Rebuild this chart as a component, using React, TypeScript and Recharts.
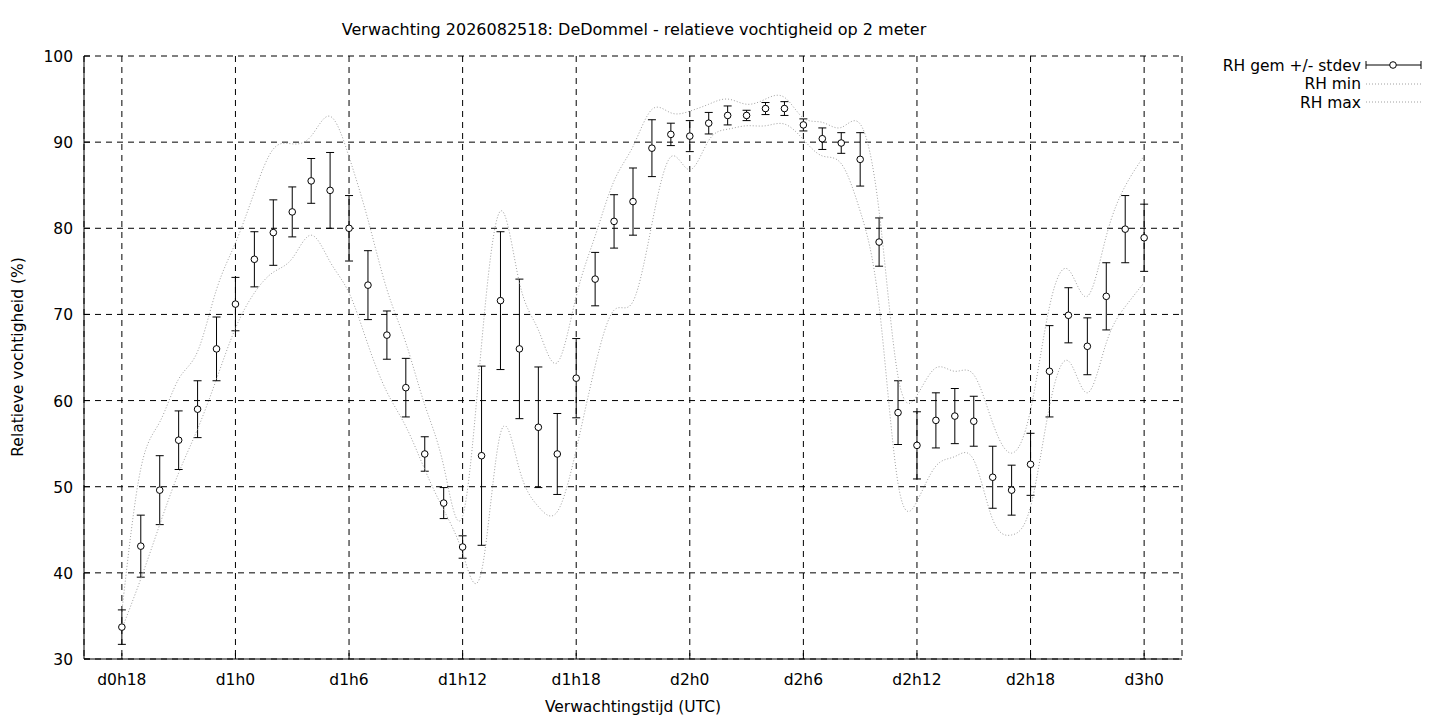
import React from "react"
import { ComposedChart, Scatter, Line, XAxis, YAxis, CartesianGrid, ErrorBar } from "recharts"

// forecast hours (0 = d0h0), one point per hour
const hours = [
  18, 19, 20, 21, 22, 23, 24, 25, 26, 27, 28, 29, 30, 31, 32, 33, 34, 35, 36,
  37, 38, 39, 40, 41, 42, 43, 44, 45, 46, 47, 48, 49, 50, 51, 52, 53, 54, 55,
  56, 57, 58, 59, 60, 61, 62, 63, 64, 65, 66, 67, 68, 69, 70, 71, 72,
]

const rhMean = [
  33.7, 43.1, 49.6, 55.4, 59.0, 66.0, 71.2, 76.4, 79.5, 81.9, 85.5, 84.4, 80.0, 73.4, 67.6, 61.5, 53.8, 48.1, 43.0,
  53.6, 71.6, 66.0, 56.9, 53.8, 62.6, 74.1, 80.8, 83.1, 89.3, 90.9, 90.7, 92.2, 93.1, 93.1, 93.9, 93.9, 92.0, 90.4,
  89.9, 88.0, 78.4, 58.6, 54.8, 57.7, 58.2, 57.6, 51.1, 49.6, 52.6, 63.4, 69.9, 66.3, 72.1, 79.9, 78.9,
]

const rhStdev = [
  2.0, 3.6, 4.0, 3.4, 3.3, 3.7, 3.1, 3.2, 3.8, 2.9, 2.6, 4.4, 3.8, 4.0, 2.8, 3.4, 2.0, 1.8, 1.3,
  10.4, 8.0, 8.1, 7.0, 4.7, 4.6, 3.1, 3.1, 3.9, 3.3, 1.3, 1.8, 1.25, 1.1, 0.6, 0.7, 0.8, 0.7, 1.25,
  1.2, 3.1, 2.8, 3.7, 3.9, 3.2, 3.2, 2.9, 3.6, 2.9, 3.6, 5.3, 3.2, 3.3, 3.9, 3.9, 3.9,
]

const rhMin = [
  33.5, 39.3, 45.6, 51.6, 56.7, 62.5, 68.4, 72.5, 74.9, 76.5, 79.2, 76.1, 72.5, 66.5, 61.0, 57.0, 52.0, 47.3, 42.3,
  40.2, 56.2, 52.0, 47.7, 47.1, 54.3, 64.0, 70.5, 71.5, 80.5, 88.3, 86.8, 90.2, 91.5, 91.9, 91.9, 92.1, 90.3, 88.4,
  87.5, 82.0, 71.0, 50.4, 48.3, 52.4, 53.5, 53.1, 46.2, 44.4, 47.7, 59.3, 64.6, 60.9, 66.7, 70.9, 73.7,
]

const rhMax = [
  35.5, 52.1, 57.5, 62.5, 65.7, 72.9, 78.3, 84.2, 89.2, 89.8, 90.7, 93.0, 88.3, 81.0, 72.9, 66.7, 59.5, 52.4, 46.6,
  66.5, 82.0, 73.7, 68.2, 64.4, 72.1, 79.1, 85.5, 89.5, 93.8, 93.4, 93.6, 94.4, 95.0, 94.4, 95.0, 95.2, 92.8, 92.3,
  91.7, 92.1, 82.0, 62.8, 60.6, 63.8, 63.4, 63.0, 57.4, 53.9, 58.9, 70.9, 75.2, 72.1, 79.1, 84.9, 88.4,
]

const xTicks = [18, 24, 30, 36, 42, 48, 54, 60, 66, 72]
const yTicks = [30, 40, 50, 60, 70, 80, 90, 100]

const FONT = "DejaVu Sans"
const FS = 15.5
const DOTTED = "#a0a0a0"

const rows = hours.map((h, i) => ({
  hour: h,
  mean: rhMean[i],
  sd: rhStdev[i],
  min: rhMin[i],
  max: rhMax[i],
}))

const hourLabel = (h: number) => `d${Math.floor(h / 24)}h${h % 24}`

const BottomTick = ({ x, y, payload }: any) => (
  <g>
    <line x1={x} x2={x} y1={y} y2={y - 6} stroke="#000" />
    <text x={x} y={y + 26} textAnchor="middle" fontFamily={FONT} fontSize={FS} fill="#000">
      {hourLabel(payload.value)}
    </text>
  </g>
)

const TopTick = ({ x, y }: any) => <line x1={x} x2={x} y1={y} y2={y + 6} stroke="#000" />

const LeftTick = ({ x, y, payload }: any) => (
  <g>
    <line x1={x} x2={x + 6} y1={y} y2={y} stroke="#000" />
    <text x={x - 11} y={y + 6} textAnchor="end" fontFamily={FONT} fontSize={FS} fill="#000">
      {payload.value}
    </text>
  </g>
)

const RightTick = ({ x, y }: any) => <line x1={x} x2={x - 6} y1={y} y2={y} stroke="#000" />

const OpenCircle = ({ cx, cy }: any) => <circle cx={cx} cy={cy} r={3.3} fill="#fff" stroke="#000" strokeWidth={1} />

export default function App() {
  return (
    <div style={{ position: "fixed", left: 0, top: 0, width: 1440, height: 720, background: "#fff" }}>
      <ComposedChart
        width={1440}
        height={720}
        data={rows}
        margin={{ top: 56, right: 258, bottom: 0, left: 0 }}
      >
        <CartesianGrid stroke="#000" strokeDasharray="6 5" />
        <XAxis
          dataKey="hour"
          type="number"
          domain={[16, 74]}
          ticks={xTicks}
          height={61}
          stroke="#000"
          tickLine={false}
          tickSize={0}
          tickMargin={0}
          tick={<BottomTick />}
          interval={0}
        />
        <XAxis
          xAxisId="top"
          orientation="top"
          type="number"
          domain={[16, 74]}
          ticks={xTicks}
          height={0}
          stroke="#000"
          tickLine={false}
          tickSize={0}
          tickMargin={0}
          tick={<TopTick />}
          interval={0}
        />
        <YAxis
          type="number"
          domain={[30, 100]}
          ticks={yTicks}
          width={84}
          stroke="#000"
          tickLine={false}
          tickSize={0}
          tickMargin={0}
          tick={<LeftTick />}
          interval={0}
        />
        <YAxis
          yAxisId="right"
          orientation="right"
          type="number"
          domain={[30, 100]}
          ticks={yTicks}
          width={0}
          stroke="#000"
          tickLine={false}
          tickSize={0}
          tickMargin={0}
          tick={<RightTick />}
          interval={0}
        />
        <Scatter dataKey="mean" shape={<OpenCircle />} isAnimationActive={false}>
          <ErrorBar dataKey="sd" direction="y" width={4} stroke="#000" strokeWidth={1} />
        </Scatter>
        <Line
          dataKey="min"
          type="natural"
          stroke={DOTTED}
          strokeWidth={1}
          strokeDasharray="1 2"
          dot={false}
          activeDot={false}
          isAnimationActive={false}
        />
        <Line
          dataKey="max"
          type="natural"
          stroke={DOTTED}
          strokeWidth={1}
          strokeDasharray="1 2"
          dot={false}
          activeDot={false}
          isAnimationActive={false}
        />
      </ComposedChart>

      {/* title, axis titles and legend sit outside the plot box */}
      <svg
        width={1440}
        height={720}
        style={{ position: "absolute", left: 0, top: 0, pointerEvents: "none" }}
        fontFamily={FONT}
        fontSize={FS}
      >
        <text x={634} y={35} textAnchor="middle" fontSize={16}>
          Verwachting 2026082518: DeDommel - relatieve vochtigheid op 2 meter
        </text>
        <text x={633} y={712} textAnchor="middle">
          Verwachtingstijd (UTC)
        </text>
        <text x={23} y={357} textAnchor="middle" transform="rotate(-90 23 357)">
          Relatieve vochtigheid (%)
        </text>

        <text x={1361} y={71} textAnchor="end">RH gem +/- stdev</text>
        <line x1={1366} x2={1421} y1={65} y2={65} stroke="#000" />
        <line x1={1366} x2={1366} y1={61} y2={69} stroke="#000" />
        <line x1={1421} x2={1421} y1={61} y2={69} stroke="#000" />
        <circle cx={1393} cy={65} r={3.3} fill="#fff" stroke="#000" />

        <text x={1361} y={89} textAnchor="end">RH min</text>
        <line x1={1366} x2={1421} y1={84} y2={84} stroke={DOTTED} strokeDasharray="1 2" />

        <text x={1361} y={108} textAnchor="end">RH max</text>
        <line x1={1366} x2={1421} y1={102} y2={102} stroke={DOTTED} strokeDasharray="1 2" />
      </svg>
    </div>
  )
}
